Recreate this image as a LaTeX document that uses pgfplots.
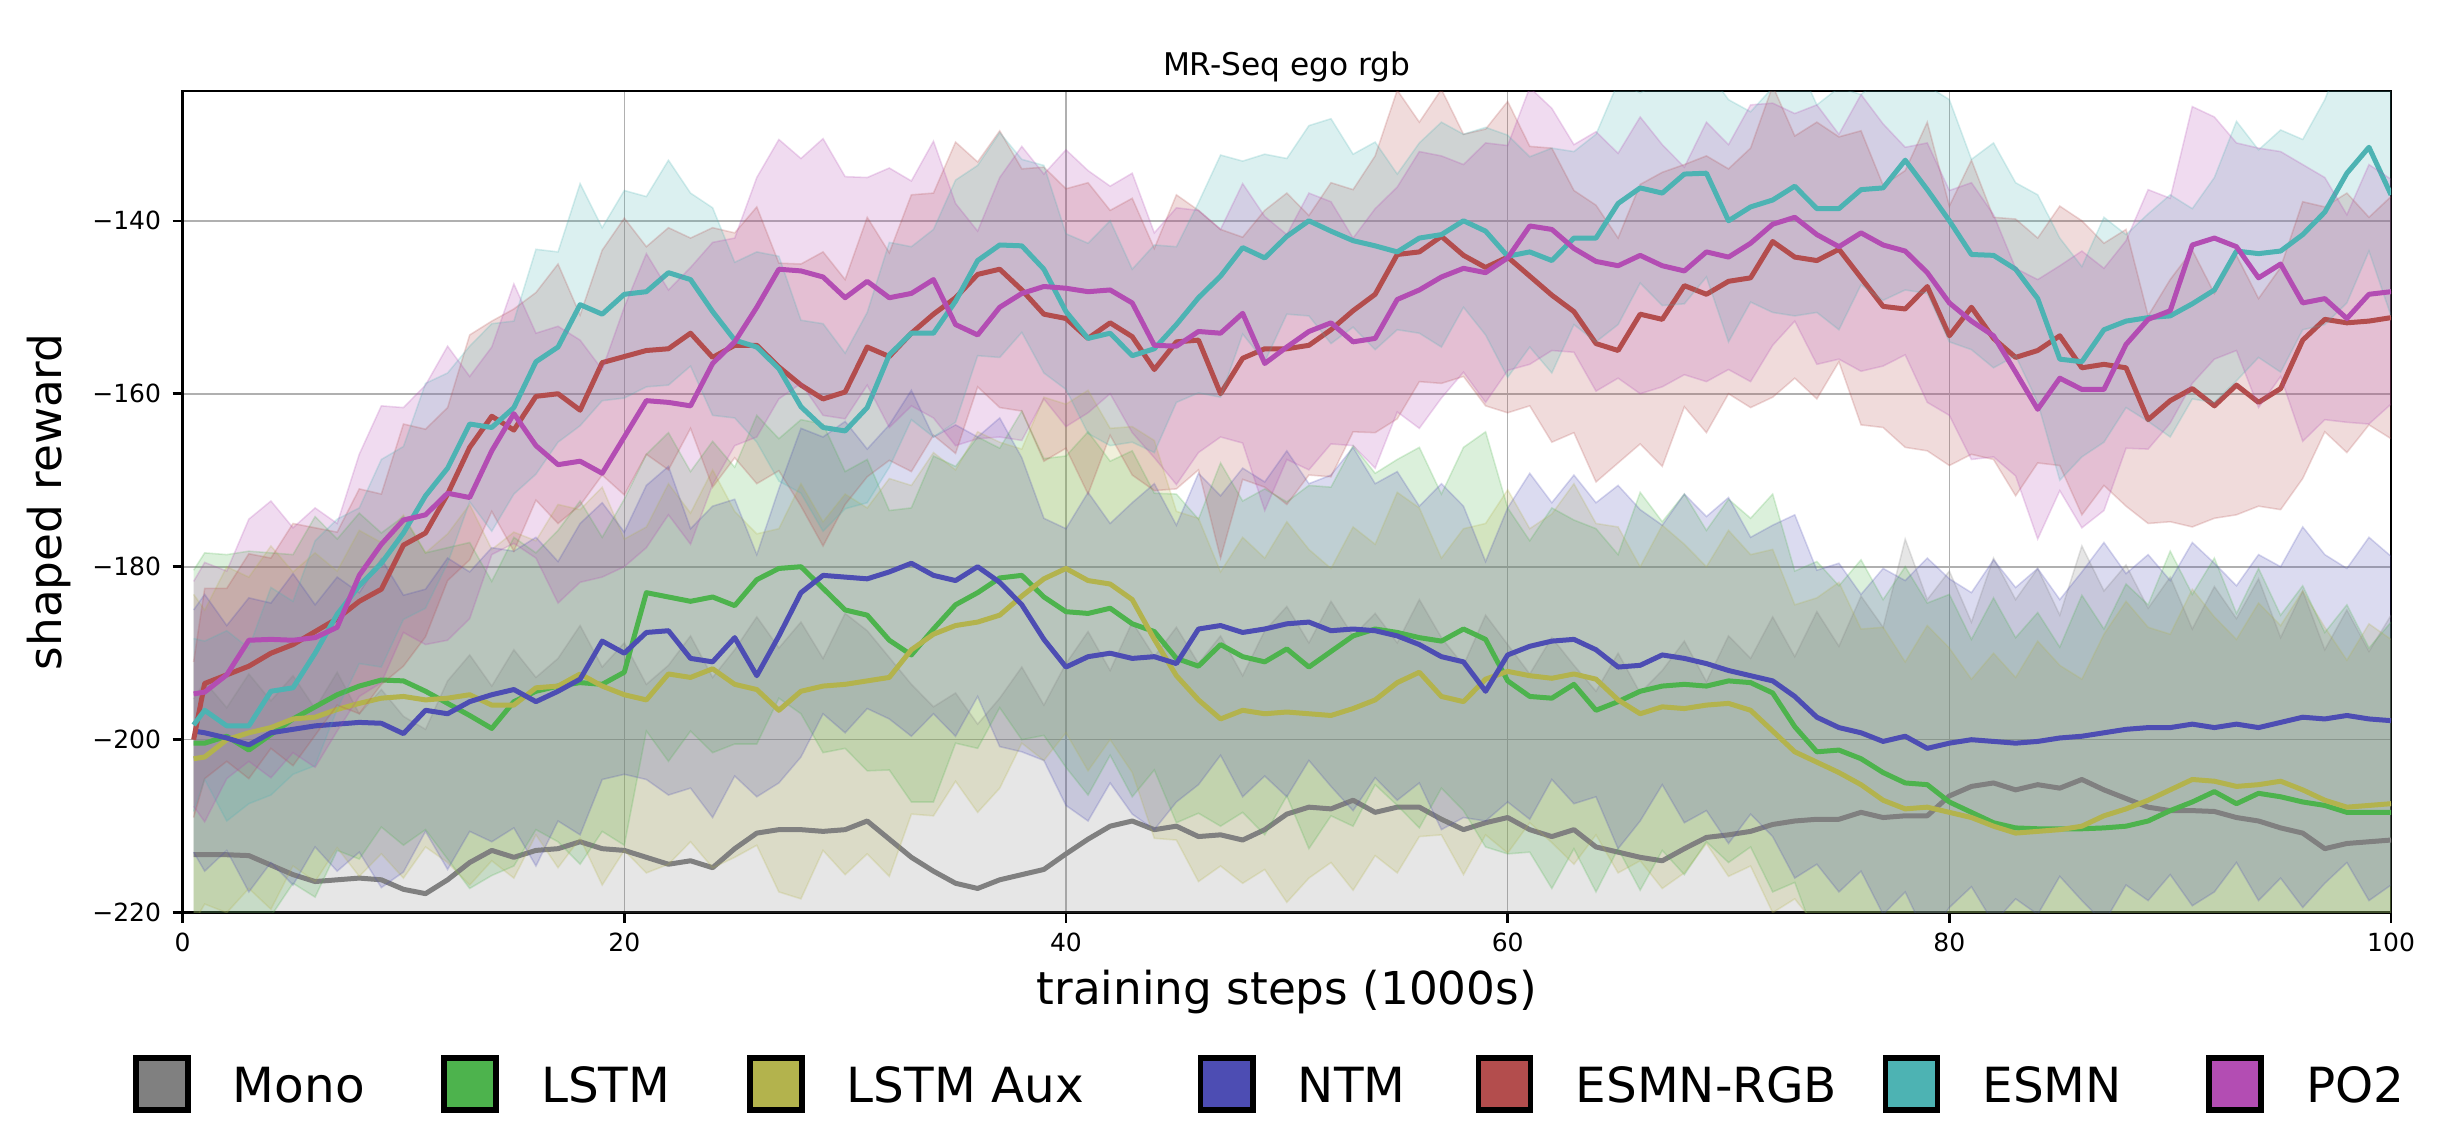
\documentclass[border=0pt]{standalone}
\usepackage{fontspec}
\setmainfont{DejaVu Sans}
\usepackage{pgfplots}
\usepackage{pgfplotstable}
\usepgfplotslibrary{fillbetween}
\pgfplotsset{compat=1.18}
\definecolor{monoC}{RGB}{128,128,128}
\definecolor{lstmC}{RGB}{77,179,77}
\definecolor{auxC}{RGB}{179,179,77}
\definecolor{ntmC}{RGB}{77,77,179}
\definecolor{rgbC}{RGB}{179,77,77}
\definecolor{esmnC}{RGB}{77,179,179}
\definecolor{poC}{RGB}{179,77,179}
\definecolor{gridC}{RGB}{176,176,176}
\pgfplotsset{legsq/.style={legend image code/.code={\draw[line width=1.8pt, draw=black, fill=#1] (0pt,-2.35pt) rectangle (16.7pt,14.35pt);}}}

\pgfplotstableread{
x m s
0.5 -213.3 18
1 -213.3 20
2 -213.3 17
3 -213.4 21
4 -214.5 19
5 -215.6 23
6 -216.4 20
7 -216.2 24
8 -216.0 19
9 -216.2 22
10 -217.3 20
11 -217.8 19
12 -216.2 23
13 -214.2 24
14 -212.8 19
15 -213.6 24
16 -212.8 20
17 -212.6 22
18 -211.8 25
19 -212.6 21
20 -212.8 24
21 -213.6 20
22 -214.4 23
23 -214.0 26
24 -214.8 22
25 -212.6 23
26 -210.8 25
27 -210.4 21
28 -210.4 24
29 -210.6 20
30 -210.4 25
31 -209.4 22
32 -211.5 21
33 -213.6 20
34 -215.2 19
35 -216.6 22
36 -217.2 19
37 -216.2 21
38 -215.6 24
39 -215.0 19
40 -213.2 22
41 -211.5 24
42 -210.0 18
43 -209.4 23
44 -210.4 20
45 -210.0 23
46 -211.2 20
47 -211.0 23
48 -211.6 19
49 -210.4 23
50 -208.6 24
51 -207.8 19
52 -208.0 24
53 -207.0 19
54 -208.4 23
55 -207.8 19
56 -207.8 24
57 -209.2 21
58 -210.4 19
59 -209.6 24
60 -209.0 20
61 -210.4 18
62 -211.2 23
63 -210.4 19
64 -212.4 18
65 -213.0 23
66 -213.6 19
67 -214.0 22
68 -212.6 24
69 -211.3 18
70 -211.0 23
71 -210.6 20
72 -209.8 24
73 -209.4 19
74 -209.2 24
75 -209.2 20
76 -208.4 25
77 -209.0 22
78 -208.8 32
79 -208.8 25
80 -206.5 26
81 -205.4 19
82 -205.0 26
83 -205.8 22
84 -205.2 25
85 -205.6 20
86 -204.6 27
87 -205.8 23
88 -206.8 27
89 -207.8 23
90 -208.2 27
91 -208.2 21
92 -208.3 26
93 -209.0 23
94 -209.4 28
95 -210.2 22
96 -210.8 28
97 -212.6 23
98 -212.0 27
99 -211.8 22
100 -211.6 26
}\tMono

\pgfplotstableread{
x m s
0.5 -200.4 20
1 -200.4 22
2 -199.6 21
3 -201.2 23
4 -199.4 21
5 -197.6 19
6 -196.2 22
7 -194.8 18
8 -193.8 20
9 -193.1 17
10 -193.2 19
11 -194.4 16
12 -195.8 18
13 -197.2 20
14 -198.7 17
15 -195.6 19
16 -194.4 16
17 -193.8 18
18 -193.4 21
19 -193.6 17
20 -192.2 20
21 -183.0 16
22 -183.5 19
23 -184.0 15
24 -183.5 18
25 -184.5 16
26 -181.5 19
27 -180.2 15
28 -180.0 17
29 -182.5 19
30 -185.0 16
31 -185.6 18
32 -188.5 15
33 -190.2 17
34 -187.2 20
35 -184.4 16
36 -183.0 18
37 -181.3 15
38 -181.0 19
39 -183.5 16
40 -185.2 18
41 -185.4 21
42 -184.8 17
43 -186.6 20
44 -187.5 16
45 -190.6 19
46 -191.5 17
47 -189.0 21
48 -190.4 18
49 -191.0 20
50 -189.5 17
51 -191.6 21
52 -189.8 19
53 -188.0 22
54 -187.2 18
55 -187.6 20
56 -188.2 22
57 -188.6 17
58 -187.2 21
59 -188.4 24
60 -193.2 20
61 -195.0 18
62 -195.2 22
63 -193.6 19
64 -196.6 21
65 -195.6 17
66 -194.4 23
67 -193.8 19
68 -193.6 22
69 -193.8 18
70 -193.2 21
71 -193.4 19
72 -194.6 23
73 -198.5 18
74 -201.4 22
75 -201.2 19
76 -202.2 23
77 -203.8 20
78 -205.0 25
79 -205.2 21
80 -207.2 24
81 -208.4 20
82 -209.6 26
83 -210.2 22
84 -210.3 25
85 -210.3 21
86 -210.3 27
87 -210.2 23
88 -210.0 28
89 -209.4 25
90 -208.2 30
91 -207.2 24
92 -206.0 27
93 -207.4 22
94 -206.2 26
95 -206.6 21
96 -207.2 25
97 -207.6 20
98 -208.4 24
99 -208.4 19
100 -208.4 22
}\tLstm

\pgfplotstableread{
x m s
0.5 -202.2 19
1 -202.0 17
2 -200.0 20
3 -199.2 18
4 -198.6 21
5 -197.6 17
6 -197.4 19
7 -196.5 16
8 -195.8 20
9 -195.2 18
10 -195.0 21
11 -195.4 17
12 -195.2 19
13 -194.8 22
14 -196.0 18
15 -196.0 20
16 -194.0 17
17 -193.8 21
18 -192.4 19
19 -193.8 23
20 -194.8 18
21 -195.4 20
22 -192.4 22
23 -192.8 19
24 -191.8 23
25 -193.6 20
26 -194.2 18
27 -196.6 21
28 -194.4 24
29 -193.8 19
30 -193.6 22
31 -193.2 20
32 -192.8 23
33 -189.6 19
34 -187.8 21
35 -186.8 18
36 -186.4 22
37 -185.6 20
38 -183.4 17
39 -181.4 21
40 -180.2 19
41 -181.6 22
42 -182.0 18
43 -183.8 20
44 -188.4 23
45 -192.6 19
46 -195.4 21
47 -197.6 17
48 -196.6 20
49 -197.0 18
50 -196.8 22
51 -197.0 19
52 -197.2 17
53 -196.4 21
54 -195.4 18
55 -193.4 22
56 -192.2 19
57 -195.0 16
58 -195.6 20
59 -193.0 18
60 -192.1 21
61 -192.6 17
62 -192.9 19
63 -192.4 22
64 -193.0 18
65 -195.4 20
66 -197.0 17
67 -196.2 21
68 -196.4 19
69 -196.0 16
70 -195.8 20
71 -196.6 18
72 -199.0 21
73 -201.4 17
74 -202.6 19
75 -203.8 22
76 -205.2 18
77 -207.0 20
78 -208.0 17
79 -207.8 21
80 -208.4 19
81 -209.0 16
82 -210.0 20
83 -210.8 18
84 -210.6 22
85 -210.4 19
86 -210.0 17
87 -208.8 21
88 -208.0 24
89 -207.0 20
90 -205.8 18
91 -204.6 22
92 -204.8 19
93 -205.4 17
94 -205.2 21
95 -204.8 18
96 -205.8 23
97 -207.0 20
98 -207.8 17
99 -207.6 21
100 -207.4 19
}\tAux

\pgfplotstableread{
x m s
0.5 -199.0 14
1 -199.2 16
2 -199.8 13
3 -200.6 17
4 -199.2 15
5 -198.8 18
6 -198.4 14
7 -198.2 17
8 -198.0 15
9 -198.1 19
10 -199.3 16
11 -196.6 14
12 -197.0 18
13 -195.6 15
14 -194.8 17
15 -194.2 16
16 -195.6 19
17 -194.4 15
18 -193.0 18
19 -188.6 16
20 -190.0 14
21 -187.6 17
22 -187.4 19
23 -190.6 15
24 -191.0 18
25 -188.2 16
26 -192.6 14
27 -188.0 17
28 -183.0 19
29 -181.0 16
30 -181.2 18
31 -181.4 15
32 -180.6 17
33 -179.6 20
34 -181.0 16
35 -181.6 18
36 -180.0 15
37 -181.8 19
38 -184.4 17
39 -188.4 14
40 -191.6 16
41 -190.4 19
42 -190.0 15
43 -190.6 18
44 -190.4 20
45 -191.2 16
46 -187.2 18
47 -186.8 15
48 -187.6 19
49 -187.2 17
50 -186.6 20
51 -186.4 16
52 -187.4 18
53 -187.2 21
54 -187.4 17
55 -188.0 19
56 -189.0 16
57 -190.4 20
58 -191.0 18
59 -194.4 15
60 -190.2 17
61 -189.2 20
62 -188.6 16
63 -188.4 19
64 -189.6 17
65 -191.6 21
66 -191.4 18
67 -190.2 15
68 -190.6 19
69 -191.2 17
70 -192.0 20
71 -192.6 16
72 -193.2 18
73 -195.0 21
74 -197.4 17
75 -198.6 19
76 -199.2 16
77 -200.2 20
78 -199.6 18
79 -201.0 22
80 -200.4 19
81 -200.0 17
82 -200.2 21
83 -200.4 18
84 -200.2 20
85 -199.8 16
86 -199.6 19
87 -199.2 22
88 -198.8 18
89 -198.6 20
90 -198.6 17
91 -198.2 21
92 -198.6 19
93 -198.2 16
94 -198.6 20
95 -198.0 18
96 -197.4 22
97 -197.6 19
98 -197.2 17
99 -197.6 21
100 -197.8 19
}\tNtm

\pgfplotstableread{
x m s
0.5 -200.0 9
1 -193.5 11
2 -192.5 10
3 -191.5 13
4 -190.0 11
5 -189.0 14
6 -187.5 12
7 -186.0 10
8 -184.0 13
9 -182.6 11
10 -177.5 14
11 -176.1 12
12 -171.6 10
13 -166.2 13
14 -162.6 11
15 -164.2 14
16 -160.3 12
17 -160.0 15
18 -161.9 11
19 -156.4 13
20 -155.7 16
21 -155.0 12
22 -154.8 14
23 -153.0 11
24 -155.8 15
25 -154.4 13
26 -154.4 16
27 -156.9 12
28 -159.0 14
29 -160.6 17
30 -159.8 13
31 -154.6 15
32 -155.7 12
33 -153.0 16
34 -150.8 14
35 -148.9 18
36 -146.2 13
37 -145.6 16
38 -148.0 14
39 -150.8 17
40 -151.3 15
41 -153.6 18
42 -151.8 13
43 -153.4 16
44 -157.2 14
45 -154.0 17
46 -153.8 15
47 -160.0 19
48 -155.9 14
49 -154.8 16
50 -154.8 18
51 -154.4 15
52 -152.6 17
53 -150.4 14
54 -148.5 16
55 -143.9 19
56 -143.6 15
57 -141.8 17
58 -144.0 14
59 -145.4 16
60 -144.2 18
61 -146.4 15
62 -148.6 17
63 -150.5 14
64 -154.2 16
65 -155.0 13
66 -150.8 15
67 -151.4 17
68 -147.5 14
69 -148.5 16
70 -147.0 13
71 -146.6 15
72 -142.4 18
73 -144.2 14
74 -144.6 16
75 -143.3 13
76 -146.6 17
77 -149.9 14
78 -150.2 16
79 -147.6 19
80 -153.3 15
81 -150.0 17
82 -153.6 14
83 -155.8 16
84 -155.0 13
85 -153.3 15
86 -157.0 17
87 -156.6 14
88 -157.0 16
89 -163.0 12
90 -160.8 14
91 -159.4 16
92 -161.4 13
93 -159.0 15
94 -161.0 12
95 -159.4 14
96 -153.8 16
97 -151.4 13
98 -151.8 15
99 -151.6 12
100 -151.2 14
}\tRgb

\pgfplotstableread{
x m s
0.5 -198.3 10
1 -196.6 8
2 -198.4 11
3 -198.4 9
4 -194.4 12
5 -194.0 10
6 -190.0 13
7 -185.5 11
8 -182.2 9
9 -179.6 12
10 -176.1 10
11 -171.8 13
12 -168.6 11
13 -163.5 9
14 -163.9 12
15 -161.6 10
16 -156.3 13
17 -154.6 11
18 -149.7 14
19 -150.8 10
20 -148.5 12
21 -148.2 11
22 -146.0 13
23 -146.8 10
24 -150.5 12
25 -153.8 9
26 -154.6 11
27 -157.1 13
28 -161.5 10
29 -163.9 12
30 -164.3 9
31 -161.6 11
32 -155.5 13
33 -153.0 10
34 -153.0 12
35 -149.3 14
36 -144.6 11
37 -142.8 13
38 -142.9 10
39 -145.6 12
40 -150.5 9
41 -153.6 11
42 -153.0 13
43 -155.6 10
44 -154.8 12
45 -152.0 9
46 -148.9 11
47 -146.4 14
48 -143.1 10
49 -144.3 12
50 -141.8 9
51 -140.0 11
52 -141.2 13
53 -142.3 10
54 -142.9 12
55 -143.6 9
56 -142.0 11
57 -141.6 13
58 -140.0 10
59 -141.2 12
60 -144.1 14
61 -143.6 11
62 -144.6 13
63 -142.0 10
64 -142.0 12
65 -138.0 14
66 -136.2 11
67 -136.8 13
68 -134.6 15
69 -134.5 12
70 -140.0 14
71 -138.4 11
72 -137.6 13
73 -136.0 15
74 -138.6 12
75 -138.6 14
76 -136.4 11
77 -136.2 13
78 -133.0 15
79 -136.4 12
80 -140.0 14
81 -143.9 11
82 -144.0 13
83 -145.6 10
84 -149.0 12
85 -156.0 14
86 -156.3 11
87 -152.6 13
88 -151.6 10
89 -151.2 12
90 -151.0 14
91 -149.6 11
92 -148.0 13
93 -143.5 15
94 -143.8 12
95 -143.5 14
96 -141.6 11
97 -139.0 13
98 -134.5 15
99 -131.5 12
100 -137.0 14
}\tEsmn

\pgfplotstableread{
x m s
0.5 -194.7 13
1 -194.5 15
2 -192.5 12
3 -188.5 14
4 -188.4 16
5 -188.5 13
6 -188.2 15
7 -187.0 12
8 -181.0 14
9 -177.4 16
10 -174.6 13
11 -174.0 15
12 -171.5 17
13 -172.0 14
14 -166.6 12
15 -162.3 15
16 -166.0 13
17 -168.2 16
18 -167.8 14
19 -169.2 12
20 -165.0 15
21 -160.8 17
22 -161.0 13
23 -161.4 16
24 -156.5 14
25 -154.0 12
26 -150.0 15
27 -145.6 15
28 -145.8 13
29 -146.5 16
30 -148.9 14
31 -147.0 12
32 -148.9 15
33 -148.4 13
34 -146.8 16
35 -152.0 14
36 -153.2 12
37 -150.0 15
38 -148.4 17
39 -147.6 13
40 -147.8 16
41 -148.2 14
42 -148.0 12
43 -149.5 15
44 -154.4 13
45 -154.5 16
46 -152.8 14
47 -153.0 12
48 -150.7 15
49 -156.5 17
50 -154.6 13
51 -152.8 16
52 -151.8 14
53 -154.0 12
54 -153.6 15
55 -149.1 13
56 -148.0 16
57 -146.5 14
58 -145.5 12
59 -146.0 15
60 -144.3 13
61 -140.6 16
62 -141.0 14
63 -143.2 12
64 -144.7 15
65 -145.2 13
66 -144.0 16
67 -145.2 14
68 -145.8 12
69 -143.6 15
70 -144.2 13
71 -142.6 16
72 -140.4 14
73 -139.6 12
74 -141.6 15
75 -143.0 13
76 -141.4 16
77 -142.8 14
78 -143.5 12
79 -146.0 15
80 -149.5 13
81 -151.6 16
82 -153.3 14
83 -157.5 12
84 -161.8 15
85 -158.2 13
86 -159.5 16
87 -159.5 14
88 -154.3 12
89 -151.4 15
90 -150.4 13
91 -142.8 16
92 -142.0 14
93 -143.0 12
94 -146.6 15
95 -145.0 13
96 -149.5 16
97 -149.0 14
98 -151.3 12
99 -148.5 15
100 -148.2 13
}\tPo

\newcommand{\bandseries}[3]{%
  \addplot[draw=#2, draw opacity=0.22, line width=0.5pt, name path=#3hi, forget plot] table[x=x, y expr=\thisrow{m}+\thisrow{s}] {#1};
  \addplot[draw=#2, draw opacity=0.22, line width=0.5pt, name path=#3lo, forget plot] table[x=x, y expr=\thisrow{m}-\thisrow{s}] {#1};
  \addplot[fill=#2, fill opacity=0.2, draw=none, forget plot] fill between[of=#3hi and #3lo];
  \addplot[draw=#2, line width=1.6pt, line join=round, forget plot] table[x=x, y=m] {#1};
}

\begin{document}
\begin{tikzpicture}
\begin{axis}[
  at={(0pt,0pt)}, anchor=south west,
  scale only axis, width=706.7pt, height=262.94pt,
  xmin=0, xmax=100, ymin=-220, ymax=-125,
  no markers,
  xtick={0,20,40,60,80,100}, xticklabels={0,20,40,60,80,100},
  ytick={-220,-200,-180,-160,-140}, yticklabels={−220,−200,−180,−160,−140},
  tick pos=left, tick align=outside, major tick length=3.2pt,
  every tick/.style={black, line width=0.8pt},
  axis line style={black, line width=0.8pt},
  grid=major, major grid style={gridC, line width=0.5pt},
  tick label style={font=\fontsize{8}{9.6}\selectfont},
  yticklabel style={anchor=east, inner sep=0pt, xshift=-3.5pt},
  xticklabel style={anchor=north, inner sep=0pt, yshift=-3pt},
  every axis title shift=0pt,
  title={MR-Seq ego rgb},
  title style={font=\fontsize{10}{12}\selectfont, at={(0.5,1.0192)}, anchor=base, inner sep=0pt, yshift=0pt},
  xlabel={training steps (1000s)}, ylabel={shaped reward},
  label style={font=\fontsize{14.5}{17}\selectfont, inner sep=0pt},
  xlabel style={at={(axis description cs:0.5,-0.11181)}, anchor=base},
  ylabel style={at={(axis description cs:-0.05462,0.5)}, anchor=base},
  legend style={at={(-0.0225,-0.17324)}, anchor=north west,
    draw=none, fill=none, inner sep=0pt, outer sep=0pt,
    font=\fontsize{15.5}{18}\selectfont,
    nodes={inner sep=0pt}, cells={anchor=base west},
    /tikz/every odd column/.append style={column sep=13.5pt},
    /tikz/every even column/.append style={column sep=24.5pt}},
  legend columns=-1,
]
\bandseries{\tMono}{monoC}{mo}
\bandseries{\tLstm}{lstmC}{ls}
\bandseries{\tAux}{auxC}{au}
\bandseries{\tNtm}{ntmC}{nt}
\bandseries{\tRgb}{rgbC}{rg}
\bandseries{\tEsmn}{esmnC}{es}
\bandseries{\tPo}{poC}{po}
\addlegendimage{legsq=monoC}\addlegendentry{Mono}
\addlegendimage{legsq=lstmC}\addlegendentry{LSTM}
\addlegendimage{legsq=auxC}\addlegendentry{\makebox[87.8pt][l]{LSTM Aux}}
\addlegendimage{legsq=ntmC}\addlegendentry{\makebox[32.4pt][l]{NTM}}
\addlegendimage{legsq=rgbC}\addlegendentry{\makebox[73.7pt][l]{ESMN-RGB}}
\addlegendimage{legsq=esmnC}\addlegendentry{\makebox[47.1pt][l]{ESMN}}
\addlegendimage{legsq=poC}\addlegendentry{PO2}
\end{axis}
\pgfresetboundingbox
\path (-58.43pt,-70.82pt) rectangle (727.81pt,292.06pt);
\end{tikzpicture}
\end{document}
